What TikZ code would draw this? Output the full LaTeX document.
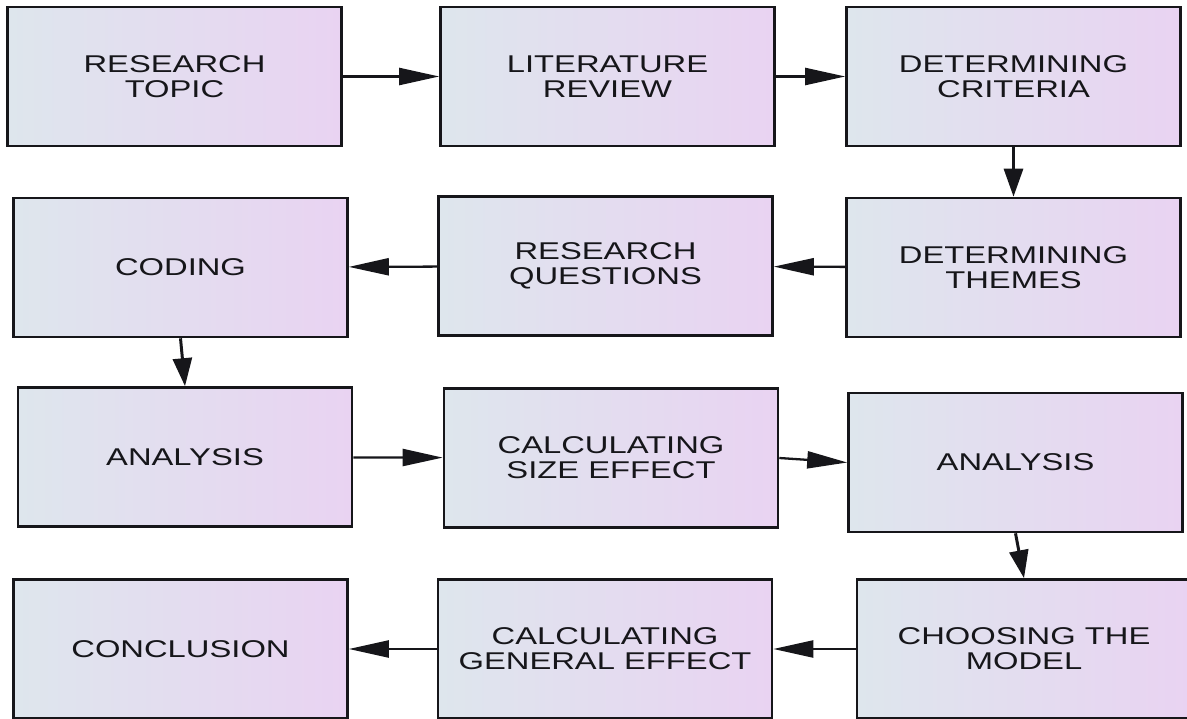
\documentclass[tikz,border=0pt]{standalone}
\usepackage{fontspec}
\newfontfamily\boxfont{Liberation Sans}[FakeStretch=1.35]
\usetikzlibrary{arrows.meta}
\definecolor{boxleft}{RGB}{222,230,237}
\definecolor{boxright}{RGB}{233,211,242}
\definecolor{boxline}{RGB}{22,22,26}
\begin{document}
\begin{tikzpicture}[
    x=0.02cm, y=-0.02cm,
    box_style/.style={draw=boxline, line width=1.5pt, left color=boxleft, right color=boxright,
        minimum width=6.68cm, minimum height=2.78cm, inner sep=0pt, align=center,
        text=boxline, font=\boxfont\fontsize{13.8pt}{14.2pt}\selectfont},
    harrow_style/.style={line width=1.3pt, draw=boxline, -{Triangle[length=0.8cm, width=0.34cm]}},
    varrow_style/.style={line width=1.7pt, draw=boxline, -{Triangle[length=0.56cm, width=0.38cm]}}
]
\useasboundingbox (0,0) rectangle (1187,719);
% Ligne 1
\node[box_style] (topic) at (174.5, 76.5) {RESEARCH\\TOPIC};
\node[box_style] (review) at (607.5, 76.5) {LITERATURE\\REVIEW};
\node[box_style] (criteria) at (1013.5, 76.5) {DETERMINING\\CRITERIA};
% Ligne 2
\node[box_style] (coding) at (180.5, 267.5) {CODING};
\node[box_style] (questions) at (605.5, 266) {RESEARCH\\QUESTIONS};
\node[box_style] (themes) at (1013.5, 267.5) {DETERMINING\\THEMES};
% Ligne 3
\node[box_style] (analysis_a) at (185, 457) {ANALYSIS};
\node[box_style] (size) at (611, 458) {CALCULATING\\SIZE EFFECT};
\node[box_style] (analysis_b) at (1015.5, 462.5) {ANALYSIS};
% Ligne 4
\node[box_style] (conclusion) at (180.5, 649) {CONCLUSION};
\node[box_style] (general) at (605, 649) {CALCULATING\\GENERAL EFFECT};
\node[box_style] (model) at (1024, 649) {CHOOSING THE\\MODEL};
% Fleches
\draw[harrow_style] (topic) -- (review);
\draw[harrow_style] (review) -- (criteria);
\draw[varrow_style] (criteria) -- (themes);
\draw[harrow_style] (themes) -- (questions);
\draw[harrow_style] (questions) -- (coding);
\draw[varrow_style] (coding.south) -- (analysis_a.north);
\draw[harrow_style] (analysis_a) -- (size);
\draw[harrow_style] (size.east) -- (analysis_b.west);
\draw[varrow_style] (analysis_b.south) -- (model.north);
\draw[harrow_style] (model) -- (general);
\draw[harrow_style] (general) -- (conclusion);
\end{tikzpicture}
\end{document}
